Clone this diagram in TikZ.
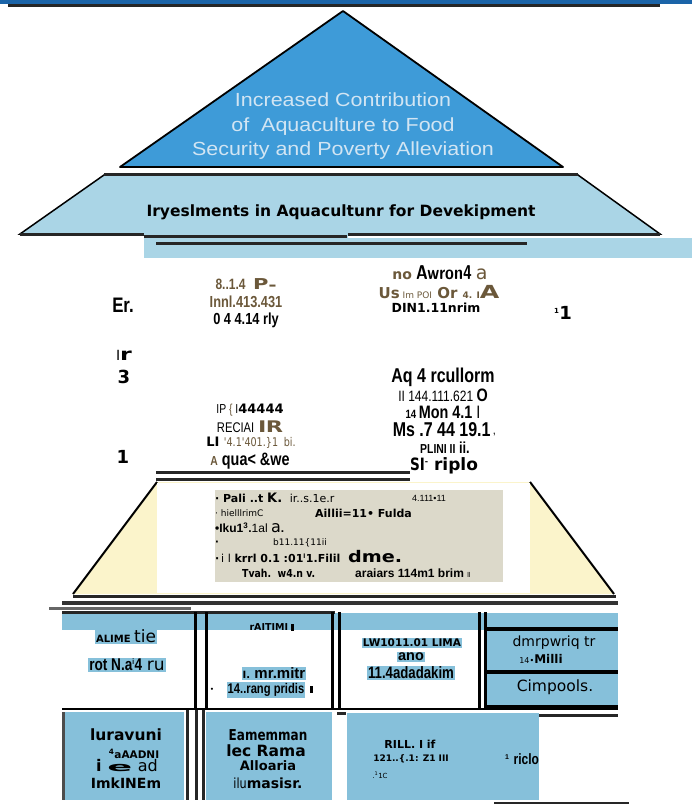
\documentclass[tikz,border=0pt]{standalone}
\usepackage{fontspec}
\setmainfont{Liberation Sans}
\newfontfamily\vfont{DejaVu Sans}
\usetikzlibrary{positioning}

\definecolor{topblue}{HTML}{1B64A8}
\definecolor{triblue}{HTML}{3E9BD8}
\definecolor{trilite}{HTML}{D2E5F3}
\definecolor{trapblue}{HTML}{AAD5E6}
\definecolor{tabblue}{HTML}{86C0DA}
\definecolor{brn}{HTML}{6B583A}
\definecolor{pale}{HTML}{FBF4CB}
\definecolor{boxgray}{HTML}{DCD9CA}

\newcommand{\nrw}[1]{\scalebox{0.8}[1]{#1}}
\newcommand{\wde}[1]{\scalebox{1.4}[1]{#1}}
\newcommand{\fs}[1]{\fontsize{#1}{#1}\selectfont}

\begin{document}
\begin{tikzpicture}[x=1pt,y=-1pt,
    bar/.style={line width=3pt,draw=black!85},
    thinbar/.style={line width=2pt,draw=black!85},
    vbar/.style={line width=3pt,draw=black},
    lbl/.style={inner sep=0pt,font=\vfont\bfseries\fs{12}},
    nlbl/.style={inner sep=0pt,font=\bfseries\fs{17}},
    hl/.style={lbl,fill=tabblue,inner sep=1pt},
    glbl/.style={inner sep=0pt,anchor=west,font=\vfont\bfseries\fs{10}}]
\useasboundingbox (0,0) rectangle (692,810);

% top band
\fill[topblue] (0,0) rectangle (692,4);
\draw[line width=3pt,black!85] (8,5.5) -- (660,5.5);

% pyramid
\draw[fill=triblue,line width=1.8pt,line join=round] (343,11) -- (563,167) -- (120,167) -- cycle;
\node[align=center,text=trilite,font=\fs{19}] (goal) at (343,127)
    {\scalebox{1.13}[1]{\begin{tabular}{@{}c@{}}Increased Contribution\\[5pt]of\; Aquaculture to Food\\[5pt]Security and Poverty Alleviation\end{tabular}}};
\draw[fill=trapblue,line width=1.5pt] (104,175) -- (578,175) -- (660,234) -- (20,234) -- cycle;
\draw[bar] (104,175) -- (578,175);
\draw[bar] (20,234) -- (660,234);
\node[lbl,font=\vfont\bfseries\fs{15.5}] (invest) at (341,212)
    {Iryeslments in Aquacultunr for Devekipment};

% light band under the pyramid
\fill[trapblue] (144,226) rectangle (348,240);
\fill[trapblue] (144,238) rectangle (692,258);
\draw[bar] (144,236) -- (347,236);
\draw[bar] (156,243) -- (527,243);

% middle texts
\node[nlbl,font=\bfseries\fs{21}] (er) at (123,305) {\nrw{Er.}};
\node[nlbl,text=brn] (ma) at (246,285) {\nrw{\fs{15}8..1.4}\, {\vfont\fs{15}\wde{P}}\raisebox{-1pt}{\wde{-}}};
\node[nlbl,text=brn] (mb) at (246,302) {\nrw{\fs{16}Innl.413.431}};
\node[nlbl] (mc) at (246,320) {\nrw{\fs{16}0 4 4.14 rly}};
\node[lbl] (na) at (440,273)
    {\textcolor{brn}{\fs{14}no} {\fs{20}\nrw{\sffamily Awron4}} \textcolor{brn}{\mdseries\fs{19}a}};
\node[lbl,text=brn,font=\vfont\bfseries\fs{15}] (nb) at (439,292)
    {Us{\fs{9}\mdseries\ Im POI} Or {\fs{9}4. I}{\fs{18}\wde{A}}};
\node[lbl,font=\vfont\bfseries\fs{12.5}] (nc) at (436,308) {DIN1.11nrim};
\node[lbl,font=\vfont\bfseries\fs{18}] (one) at (563,313) {\textsuperscript{\fs{7}1}1};
\node[lbl,font=\vfont\bfseries\fs{17}] (ir) at (124,355) {\mdseries\fs{14}I\kern0pt\bfseries\fs{17}\wde{r}};
\node[lbl,font=\vfont\bfseries\fs{18}] (three) at (124,377) {3};

\node[nlbl,font=\bfseries\fs{20}] (ra) at (443,377) {\nrw{Aq 4 rcullorm}};
\node[nlbl] (rb) at (443,395) {\nrw{\fs{15}\mdseries II 144.111.621 \bfseries\fs{18}O}};
\node[nlbl] (rc) at (443,412) {\nrw{\fs{12}14 \fs{18}Mon 4.1 \mdseries I}};
\node[nlbl,font=\bfseries\fs{20}] (rd) at (444,430) {\nrw{Ms .7 44 19.1\,\raisebox{2pt}{\fs{9},}}};
\node[lbl,font=\bfseries\fs{13}] (re) at (445,448) {\nrw{PLINI II} \nrw{\fs{16}ii.}};
\node[lbl,font=\vfont\bfseries\fs{17}] (rf) at (444,466) {\nrw{SI}\raisebox{6pt}{\fs{8}-} riplo};

\node[lbl,font=\bfseries\fs{13}] (la) at (250,410) {\nrw{\mdseries IP \textcolor{brn}{\{} I}{\vfont 44444}};
\node[lbl,font=\bfseries\fs{14}] (lb) at (250,427) {\nrw{\mdseries RECIAI} \textcolor{brn}{\vfont\fs{16}\wde{I\kern-0.5pt R}}};
\node[lbl,font=\bfseries\fs{13}] (lc) at (251,443) {\vfont LI \textcolor{brn}{\nrw{\mdseries\fs{12}'4.1'401.\}1\; bi.}}};
\node[lbl,font=\bfseries\fs{18}] (ld) at (250,461) {\nrw{\textcolor{brn}{\fs{13}A} qua< \&we}};
\node[lbl,font=\vfont\bfseries\fs{18}] (onebot) at (123,457) {1};

\draw[bar] (156,472) -- (410,472);
\draw[bar] (156,479) -- (410,479);

% lower pyramid step
\fill[pale] (157,482) -- (530,482) -- (614,594) -- (73,594) -- cycle;
\draw[line width=2pt] (157,482) -- (73,594);
\draw[line width=2pt] (530,482) -- (614,594);
\fill[white] (157,483) rectangle (530,593);
\fill[boxgray] (215,490) rectangle (503,582);
\node[glbl,font=\vfont\bfseries\fs{11}] (g1) at (215,498) {\textperiodcentered\ Pali ..t {\fs{13}K.}\ \ {\mdseries ir..s.1e.r}};
\node[glbl,font=\fs{9}] (g1b) at (412,498) {4.111•11};
\node[glbl,font=\vfont\fs{9}] (g2) at (215,513) {\textperiodcentered\ hielllrimC};
\node[glbl,font=\vfont\bfseries\fs{11}] (g2b) at (315,513) {Aillii=11\textbullet\ Fulda};
\node[glbl,font=\bfseries\fs{12}] (g3) at (215,528) {\textbullet Iku1\textsuperscript{3}.{\mdseries 1al} {\vfont\mdseries\fs{16}a}.};
\node[glbl] (g4) at (215,543) {\textperiodcentered};
\node[glbl,font=\vfont\fs{9}] (g4b) at (273,543) {b11.11\{11ii};
\node[glbl,font=\vfont\bfseries\fs{11}] (g5) at (215,557) {\textperiodcentered\,{\mdseries i l} krrl 0.1 :01\textsuperscript{\fs{6}l}1.Filil\ \ {\fs{16}\scalebox{1.2}[1]{dme.}}};
\node[glbl,font=\vfont\bfseries\fs{11}] (g6) at (242,573) {\scalebox{0.85}[1]{Tvah.\ \ w4.n v.}};
\node[glbl,font=\bfseries\fs{12}] (g6b) at (355,573) {araiars 114m1 brim {\fs{7}\mdseries ll}};

\draw[bar] (73,596) -- (616,596);
\draw[line width=4pt,black!80] (62,603) -- (618,603);
\draw[line width=3pt,black!60] (49,608) -- (191,608);

% table
\fill[tabblue] (62,613) rectangle (618,630);
\fill[tabblue] (485,613) rectangle (618,709);
\draw[bar] (62,612) -- (335,612);
\foreach \xx in {195,206,332,339,479,485}
    \draw[vbar] (\xx,612) -- (\xx,710);
\foreach \yy in {629,672,707}
    \draw[line width=4pt] (485,\yy) -- (618,\yy);
\draw[line width=2.5pt] (62,709) -- (618,709);

\node[hl,font=\vfont\bfseries\fs{10}] (c1a) at (126,636) {ALIME {\mdseries\fs{17}tie}};
\node[hl,font=\bfseries\fs{17}] (c1b) at (127,665) {\nrw{rot N.a\textsuperscript{\fs{8}i}4} {\mdseries\vfont\fs{17}ru}};
\node[lbl,font=\vfont\bfseries\fs{9.5}] (c2a) at (272,627) {rAITIMI \rule{3pt}{7pt}};
\node[hl,font=\bfseries\fs{15}] (c2b) at (274,673) {{\vfont\fs{10}I.} mr.mitr};
\node[hl,font=\bfseries\fs{14}] (c2c) at (266,690) {\nrw{14..rang pridis}};
\node[lbl] (c2d) at (212,690) {\fs{6}\textbullet};
\fill (310,686) rectangle (313,693);
\node[hl,font=\vfont\bfseries\fs{10.5}] (c3a) at (412,643) {LW1011.01 LIMA};
\node[hl,font=\bfseries\fs{14.5}] (c3b) at (411,657) {ano};
\node[hl,font=\bfseries\fs{16.5}] (c3c) at (411,673) {\nrw{11.4adadakim}};
\node[lbl,font=\vfont\fs{14}] (c4a) at (554,643) {dmrpwriq tr};
\node[lbl,font=\vfont\fs{8}] (c4b) at (541,659) {14\textbullet\fs{12}\bfseries Milli};
\node[lbl,font=\vfont\fs{15.5}] (c4c) at (555,687) {Cimpools.};

% bottom boxes
\fill[tabblue] (62,712) rectangle (184,800);
\fill[tabblue] (206,712) rectangle (332,800);
\fill[tabblue] (347,713) rectangle (539,800);
\draw[line width=3pt,black!70] (63,712) -- (63,800);
\foreach \xx in {187,196,203}
    \draw[line width=3pt,black!85] (\xx,710) -- (\xx,800);
\draw[bar] (539,715) -- (618,715);
\draw[bar] (337,713) -- (346,713);
\draw[thinbar] (494,803) -- (629,803);

\node[lbl,font=\vfont\bfseries\fs{15.5}] (b1a) at (126,735) {luravuni};
\node[lbl,font=\vfont\bfseries\fs{10.5}] (b1b) at (134,754) {\textsuperscript{4}aAADNI};
\node[lbl,font=\vfont\bfseries\fs{16}] (b1c) at (127,766) {i {\scalebox{2.3}[0.8]{e}} {\mdseries ad}};
\node[lbl,font=\vfont\bfseries\fs{14}] (b1d) at (126,783) {ImkINEm};
\node[lbl,font=\vfont\bfseries\fs{15}] (b2a) at (268,735) {\nrw{Eamemman}};
\node[lbl,font=\vfont\bfseries\fs{15.5}] (b2b) at (266,751) {lec Rama};
\node[lbl,font=\vfont\bfseries\fs{13}] (b2c) at (268,766) {Alloaria};
\node[lbl,font=\vfont\bfseries\fs{14}] (b2d) at (268,783) {{\mdseries\nrw{ilu}}masisr.};
\node[lbl,font=\vfont\bfseries\fs{11}] (b3a) at (410,744) {RILL. I if};
\node[lbl,font=\vfont\bfseries\fs{9}] (b3b) at (411,759) {121..\{.1: Z1 III};
\node[lbl,font=\vfont\fs{7}] (b3c) at (380,775) {.\textsuperscript{1}1C};
\node[lbl,font=\bfseries\fs{15}] (b3d) at (522,759) {\textsuperscript{\fs{7}1} \nrw{riclo}};
\end{tikzpicture}
\end{document}
